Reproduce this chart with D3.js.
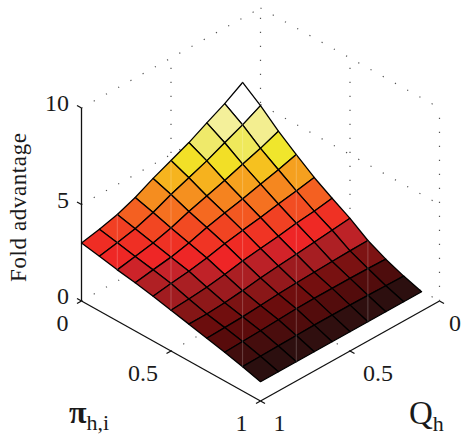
<!DOCTYPE html>
<html>
<head>
<meta charset="utf-8">
<style>
    html, body { margin: 0; padding: 0; background: #fff; }
    svg { display: block; }
    text { font-family: "Liberation Serif", serif; fill: #1a1a1a; }
</style>
</head>
<body>
<div id="chart"></div>
<script src="https://cdn.jsdelivr.net/npm/d3@7"></script>
<script>
const piValues = [0, 0.1, 0.2, 0.3, 0.4, 0.5, 0.6, 0.7, 0.8, 0.9, 1]
const qValues = [1, 0.9, 0.8, 0.7, 0.6, 0.5, 0.4, 0.3, 0.2, 0.1]
// one row per Q value, one column per pi value
const foldAdvantage = [
    [3.0, 2.84, 2.65, 2.5, 2.32, 2.11, 1.91, 1.7, 1.49, 1.26, 1],
    [3.2, 3.02, 2.82, 2.65, 2.46, 2.18, 1.92, 1.73, 1.53, 1.28, 1],
    [3.45, 3.23, 3.0, 2.79, 2.58, 2.27, 1.98, 1.77, 1.57, 1.3, 1],
    [3.81, 3.55, 3.26, 3.01, 2.75, 2.41, 2.09, 1.84, 1.62, 1.32, 1],
    [4.28, 3.96, 3.6, 3.29, 2.97, 2.59, 2.23, 1.92, 1.67, 1.34, 1],
    [4.69, 4.31, 3.89, 3.52, 3.14, 2.72, 2.33, 1.97, 1.69, 1.34, 1],
    [5.1, 4.67, 4.17, 3.73, 3.29, 2.84, 2.42, 2.01, 1.69, 1.34, 1],
    [5.6, 5.09, 4.5, 3.98, 3.47, 2.99, 2.53, 2.05, 1.69, 1.33, 1],
    [6.08, 5.5, 4.8, 4.21, 3.63, 3.1, 2.63, 2.08, 1.68, 1.31, 1],
    [6.66, 5.98, 5.17, 4.48, 3.81, 3.25, 2.73, 2.1, 1.65, 1.29, 1]
]
const zTicks = [0, 5, 10]
const piTicks = [0, 0.5, 1]
const qTicks = [0, 0.5, 1]
const colorStops = [1, 1.3, 1.6, 1.75, 1.95, 2.15, 2.45, 2.65, 2.8, 2.95, 3.2, 3.6, 3.9, 4.3, 4.7, 5, 5.2, 5.6, 6.1, 6.6]
const colorRamp = ['#200c0c', '#2c0f0f', '#480d0d', '#5a0b0b', '#6e0d0d', '#821515', '#a01c20', '#b02024', '#c8232a', '#ee2426', '#ef2d24', '#f24a22', '#f56a20', '#f58f1f', '#f6b51e', '#f5d820', '#efe82e', '#efe96a', '#f4f09c', '#ffffff']
// diagonals of the grid (i + j) that show a pale vertical seam in the picture
const seamDiagonals = [2, 5, 9, 12, 16]

const width = 462
const height = 436

// oblique projection, x and y come from these scales
const piX = d3.scaleLinear().domain([0, 1]).range([0, 179])
const piY = d3.scaleLinear().domain([0, 1]).range([0, 100])
const qX = d3.scaleLinear().domain([1, 0]).range([0, 179])
const qY = d3.scaleLinear().domain([1, 0]).range([0, -100])
const zY = d3.scaleLinear().domain([0, 10]).range([0, -193])
const color = d3.scaleLinear().domain(colorStops).range(colorRamp).clamp(true)

const px = (pi, q) => 81.5 + piX(pi) + qX(q)
const py = (pi, q, z) => 301 + piY(pi) + qY(q) + zY(z)

const svg = d3.select('#chart').append('svg').attr('width', width).attr('height', height)

const line = (a, b) => ({ x1: px(a[0], a[1]), y1: py(a[0], a[1], a[2]), x2: px(b[0], b[1]), y2: py(b[0], b[1], b[2]) })
const drawLines = (g, data) =>
    g
        .selectAll('line.seg')
        .data(data)
        .enter()
        .append('line')
        .attr('class', 'seg')
        .attr('x1', (d) => d.x1)
        .attr('y1', (d) => d.y1)
        .attr('x2', (d) => d.x2)
        .attr('y2', (d) => d.y2)

// dotted box behind the surface
const dotted = []
zTicks.forEach((z) => {
    dotted.push(line([0, 1, z], [0, 0, z]))
    dotted.push(line([0, 0, z], [1, 0, z]))
})
dotted.push(line([0, 0.5, 0], [0, 0.5, 10]))
dotted.push(line([0, 0, 0], [0, 0, 10]))
dotted.push(line([0.5, 0, 0], [0.5, 0, 10]))
dotted.push(line([1, 0, 0], [1, 0, 10]))
dotted.push(line([0.5, 1, 0], [0.5, 0, 0]))
dotted.push(line([1, 0.5, 0], [0, 0.5, 0]))

drawLines(svg.append('g').attr('stroke', '#555').attr('stroke-width', 1.2).attr('stroke-dasharray', '1.2 12.8'), dotted)

// axes
const axes = svg.append('g').attr('stroke', '#111').attr('stroke-width', 1.3).attr('fill', 'none')
drawLines(axes, [line([0, 1, 0], [0, 1, 10]), line([0, 1, 0], [1, 1, 0]), line([1, 1, 0], [1, 0, 0])])

const addTick = (x, y, dx, dy) => axes.append('line').attr('x1', x).attr('y1', y).attr('x2', x + dx).attr('y2', y + dy)
zTicks.forEach((z) => addTick(px(0, 1), py(0, 1, z), -4.5, -2.5))
piTicks.forEach((p) => addTick(px(p, 1), py(p, 1, 0), -4.5, 2.5))
qTicks.forEach((q) => addTick(px(1, q), py(1, q, 0), 4.5, 2.5))

// surface, back cells first
const cells = []
for (let j = qValues.length - 2; j >= 0; j--) {
    for (let i = 0; i < piValues.length - 1; i++) {
        const corners = [[i, j], [i + 1, j], [i + 1, j + 1], [i, j + 1]]
        cells.push({
            points: corners.map(([a, b]) => [px(piValues[a], qValues[b]), py(piValues[a], qValues[b], foldAdvantage[b][a])]),
            z: foldAdvantage[j + 1][i]
        })
    }
}

svg.append('g')
    .selectAll('path')
    .data(cells)
    .enter()
    .append('path')
    .attr('d', (d) => d3.line()(d.points) + 'Z')
    .attr('fill', (d) => color(d.z))
    .attr('stroke', '#000')
    .attr('stroke-width', 1.3)
    .attr('stroke-linejoin', 'round')

// pale seams, each runs from the top to the bottom vertex of its diagonal
const vertex = (i, j) => [piValues[i], qValues[j], foldAdvantage[j][i]]
const seams = seamDiagonals.map((k) => {
    const top = k > 9 ? vertex(k - 9, 9) : vertex(0, k)
    const bottom = k > 10 ? vertex(10, k - 10) : vertex(k, 0)
    return line(top, bottom)
})
drawLines(svg.append('g').attr('stroke', '#fff').attr('stroke-opacity', 0.22).attr('stroke-width', 1), seams)

// tick labels
const labels = svg.append('g').attr('font-size', 24)
labels
    .selectAll('text.z')
    .data(zTicks)
    .enter()
    .append('text')
    .attr('class', 'z')
    .attr('x', px(0, 1) - 12.5)
    .attr('y', (d) => py(0, 1, d) + 3)
    .attr('text-anchor', 'end')
    .text((d) => d)
labels
    .selectAll('text.pi')
    .data(piTicks)
    .enter()
    .append('text')
    .attr('class', 'pi')
    .attr('x', (d) => px(d, 1) - 13)
    .attr('y', (d) => py(d, 1, 0) + 30)
    .attr('text-anchor', 'end')
    .text((d) => d)
labels
    .selectAll('text.q')
    .data(qTicks)
    .enter()
    .append('text')
    .attr('class', 'q')
    .attr('x', (d) => Math.min(px(1, d) + 13, width - 13))
    .attr('y', (d) => py(1, d, 0) + 30)
    .text((d) => d)

// axis titles
svg.append('text')
    .attr('transform', 'translate(26,282) rotate(-90)')
    .attr('font-size', 23)
    .attr('letter-spacing', 0.6)
    .text('Fold advantage')

const piLabel = svg.append('text').attr('x', 69).attr('y', 423).attr('font-size', 32).attr('font-weight', 'bold').text('π')
piLabel.append('tspan').attr('font-size', 22).attr('font-weight', 'normal').attr('dy', 7).text('h,i')

const qLabel = svg.append('text').attr('x', 409).attr('y', 424).attr('font-size', 33).text('Q')
qLabel.append('tspan').attr('font-size', 22).attr('dy', 7).text('h')
</script>
</body>
</html>
